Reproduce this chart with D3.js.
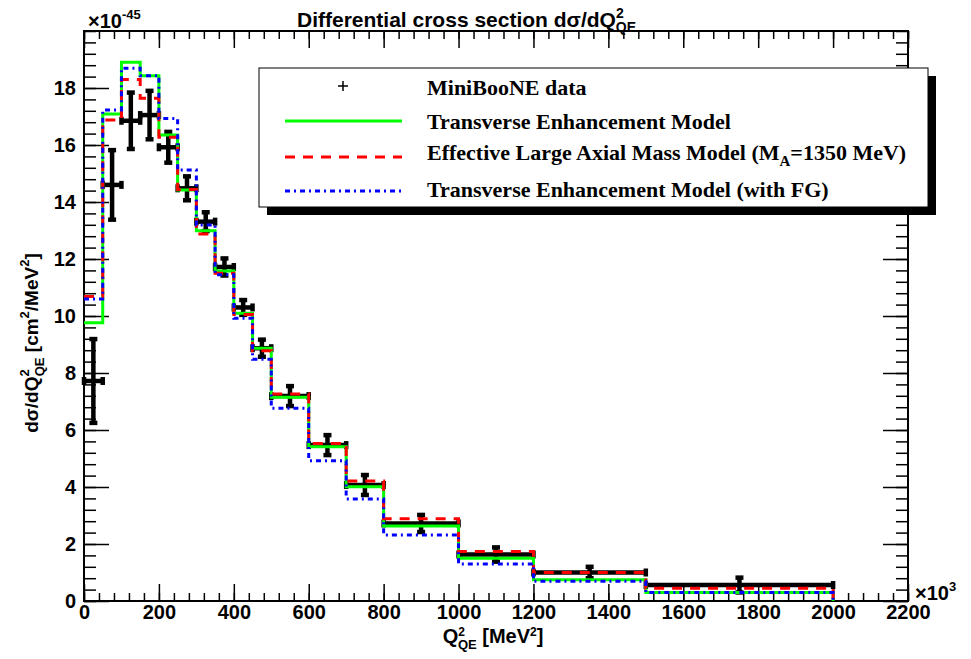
<!DOCTYPE html>
<html>
<head>
<meta charset="utf-8">
<script src="https://cdn.jsdelivr.net/npm/d3@7"></script>
<style>
body{margin:0;background:#fff;}
text{font-weight:bold;}
</style>
</head>
<body>
<svg id="chart"></svg>
<script>
// bin edges in MeV^2 (axis is x10^3)
var edges = [0,50,100,150,200,250,300,350,400,450,500,600,700,800,1000,1200,1500,2000];
// MiniBooNE data and errors (x10^-45)
var dataVal = [7.72,14.6,16.85,17.05,15.92,14.48,13.31,11.72,10.3,8.87,7.19,5.47,4.07,2.72,1.63,1.0,0.56];
var dataErr = [1.47,1.22,0.99,0.85,0.54,0.42,0.33,0.3,0.26,0.3,0.35,0.35,0.35,0.3,0.25,0.2,0.26];
// models
var teModel = [9.76,17.09,18.9,18.43,16.35,14.42,12.99,11.58,10.1,8.87,7.15,5.41,4.01,2.63,1.5,0.75,0.3];
var maModel = [10.68,16.88,18.3,17.64,16.27,14.44,12.88,11.5,10.05,8.78,7.26,5.53,4.21,2.89,1.74,1.0,0.45];
var fgModel = [10.6,17.23,18.69,18.43,16.93,15.12,13.19,11.45,9.92,8.48,6.76,4.92,3.58,2.32,1.3,0.69,0.3];
var xTicks = [0,200,400,600,800,1000,1200,1400,1600,1800,2000,2200];
var yTicks = [0,2,4,6,8,10,12,14,16,18];
var legendNames = ["MiniBooNE data","Transverse Enhancement Model","Effective Large Axial Mass Model (M","Transverse Enhancement Model (with FG)"];

var width=971, height=659;
var margin={left:84,right:63,top:31,bottom:58};
var sans="'Liberation Sans',Arial,sans-serif";
var serif="'Liberation Serif','Times New Roman',serif";

var svg=d3.select("#chart").attr("width",width).attr("height",height);

var xScale=d3.scaleLinear().domain([0,2200]).range([margin.left,width-margin.right]);
var yScale=d3.scaleLinear().domain([0,20]).range([height-margin.bottom,margin.top]);

// minor ticks
var xMinor=d3.range(0,2201,40);
var yMinor=d3.range(0,20.01,0.4);

function styleAxis(g){
  g.select(".domain").remove();
  g.selectAll(".tick line").attr("stroke","#000").attr("stroke-width",1.5);
  g.selectAll("text").attr("fill","#000").style("font-size","20px").style("font-family",sans).style("font-weight","bold");
}

svg.append("g").attr("transform","translate(0,"+yScale(0)+")")
   .call(d3.axisBottom(xScale).tickValues(xMinor).tickSize(-8).tickFormat(""))
   .call(styleAxis);
svg.append("g").attr("transform","translate(0,"+yScale(0)+")")
   .call(d3.axisBottom(xScale).tickValues(xTicks).tickSize(-17).tickPadding(4).tickFormat(d3.format("d")))
   .call(styleAxis);
svg.append("g").attr("transform","translate(0,"+yScale(20)+")")
   .call(d3.axisTop(xScale).tickValues(xMinor).tickSize(-8).tickFormat(""))
   .call(styleAxis);
svg.append("g").attr("transform","translate(0,"+yScale(20)+")")
   .call(d3.axisTop(xScale).tickValues(xTicks).tickSize(-17).tickFormat(""))
   .call(styleAxis);
svg.append("g").attr("transform","translate("+xScale(0)+",0)")
   .call(d3.axisLeft(yScale).tickValues(yMinor).tickSize(-12).tickFormat(""))
   .call(styleAxis);
svg.append("g").attr("transform","translate("+xScale(0)+",0)")
   .call(d3.axisLeft(yScale).tickValues(yTicks).tickSize(-25).tickPadding(8).tickFormat(d3.format("d")))
   .call(styleAxis);
svg.append("g").attr("transform","translate("+xScale(2200)+",0)")
   .call(d3.axisRight(yScale).tickValues(yMinor).tickSize(-12).tickFormat(""))
   .call(styleAxis);
svg.append("g").attr("transform","translate("+xScale(2200)+",0)")
   .call(d3.axisRight(yScale).tickValues(yTicks).tickSize(-25).tickFormat(""))
   .call(styleAxis);

// frame
svg.append("rect")
   .attr("x",xScale(0)).attr("y",yScale(20))
   .attr("width",xScale(2200)-xScale(0)).attr("height",yScale(0)-yScale(20))
   .attr("fill","none").attr("stroke","#000").attr("stroke-width",2);

// data points: thick bars with end caps
var pts=dataVal.map(function(v,i){
  return {x0:edges[i],x1:edges[i+1],xc:(edges[i]+edges[i+1])/2,v:v,e:dataErr[i]};
});
var gData=svg.append("g").attr("stroke","#000").attr("stroke-width",4.5);
var cap=4;
pts.forEach(function(d){
  var xc=xScale(d.xc), yc=yScale(d.v);
  var segs=[
    [xScale(d.x0),yc,xScale(d.x1),yc],
    [xc,yScale(d.v-d.e),xc,yScale(d.v+d.e)],
    [xScale(d.x0),yc-cap,xScale(d.x0),yc+cap],
    [xScale(d.x1),yc-cap,xScale(d.x1),yc+cap],
    [xc-cap,yScale(d.v-d.e),xc+cap,yScale(d.v-d.e)],
    [xc-cap,yScale(d.v+d.e),xc+cap,yScale(d.v+d.e)]
  ];
  segs.forEach(function(s){
    gData.append("line").attr("x1",s[0]).attr("y1",s[1]).attr("x2",s[2]).attr("y2",s[3]);
  });
});

// step histograms
function stepPts(vals){
  var p=vals.map(function(v,i){return [edges[i],v];});
  p.push([edges[edges.length-1],vals[vals.length-1]]);
  p.push([edges[edges.length-1],0]);
  return p;
}
var line=d3.line().x(function(d){return xScale(d[0]);}).y(function(d){return yScale(d[1]);}).curve(d3.curveStepAfter);
var series=[
  {vals:teModel,color:"#00ff00",dash:null},
  {vals:maModel,color:"#ff0000",dash:"10,8"},
  {vals:fgModel,color:"#0000ff",dash:"5,4,2,4"}
];
series.forEach(function(s){
  svg.append("path").attr("d",line(stepPts(s.vals)))
     .attr("fill","none").attr("stroke",s.color).attr("stroke-width",3)
     .attr("stroke-dasharray",s.dash);
});

// rich text helper: parts [text, fontSize, dx, dy]
function rich(t,parts,fam){
  t.style("font-family",fam||sans).style("font-weight","bold");
  parts.forEach(function(p){
    var ts=t.append("tspan").text(p[0]).style("font-size",p[1]+"px");
    if(p[2]) ts.attr("dx",p[2]);
    if(p[3]) ts.attr("dy",p[3]);
  });
  return t;
}

// title
rich(svg.append("text").attr("x",297).attr("y",27),
  [["Differential cross section d",21],["σ",21],["/dQ",21],["2",14,0,-9],["QE",14,-8,14]]);

// exponent labels
rich(svg.append("text").attr("x",88).attr("y",28),
  [["×",20],["10",20],["-45",13,0,-9]]);
rich(svg.append("text").attr("x",915).attr("y",600),
  [["×",20],["10",20],["3",13,0,-9]]);

// axis titles
rich(svg.append("text").attr("x",493).attr("y",643).attr("text-anchor","middle"),
  [["Q",20],["2",12,0,-7],["QE",13,-7,13],[" [MeV",20,0,-6],["2",12,0,-7],["]",20,0,7]]);
rich(svg.append("text").attr("transform","translate(38,343) rotate(-90)").attr("text-anchor","middle"),
  [["dσ/dQ",19],["2",13,0,-9],["QE",13,-7,15],[" [cm",19,0,-6],["2",13,0,-9],["/MeV",19,0,9],["2",13,0,-9],["]",19,0,9]]);

// legend
var lg=svg.append("g");
lg.append("rect").attr("x",267).attr("y",76).attr("width",669).attr("height",139).attr("fill","#000");
lg.append("rect").attr("x",259).attr("y",68).attr("width",669).attr("height",139).attr("fill","#fff").attr("stroke","#000").attr("stroke-width",1);
var lx0=285, lx1=402, tx=427;
lg.append("line").attr("x1",338).attr("x2",348).attr("y1",86).attr("y2",86).attr("stroke","#000").attr("stroke-width",1.5);
lg.append("line").attr("x1",343).attr("x2",343).attr("y1",81).attr("y2",91).attr("stroke","#000").attr("stroke-width",1.5);
var legLines=[{y:121,s:series[0]},{y:157,s:series[1]},{y:191,s:series[2]}];
legLines.forEach(function(l){
  lg.append("line").attr("x1",lx0).attr("x2",lx1).attr("y1",l.y).attr("y2",l.y)
    .attr("stroke",l.s.color).attr("stroke-width",3).attr("stroke-dasharray",l.s.dash);
});
var ty=[95,129,160,197];
rich(lg.append("text").attr("x",tx).attr("y",ty[0]),[[legendNames[0],22]],serif);
rich(lg.append("text").attr("x",tx).attr("y",ty[1]),[[legendNames[1],22]],serif);
rich(lg.append("text").attr("x",tx).attr("y",ty[2]),
  [[legendNames[2],22],["A",15,0,6],["=1350 MeV)",22,0,-6]],serif);
rich(lg.append("text").attr("x",tx).attr("y",ty[3]),[[legendNames[3],22]],serif);
</script>
</body>
</html>
